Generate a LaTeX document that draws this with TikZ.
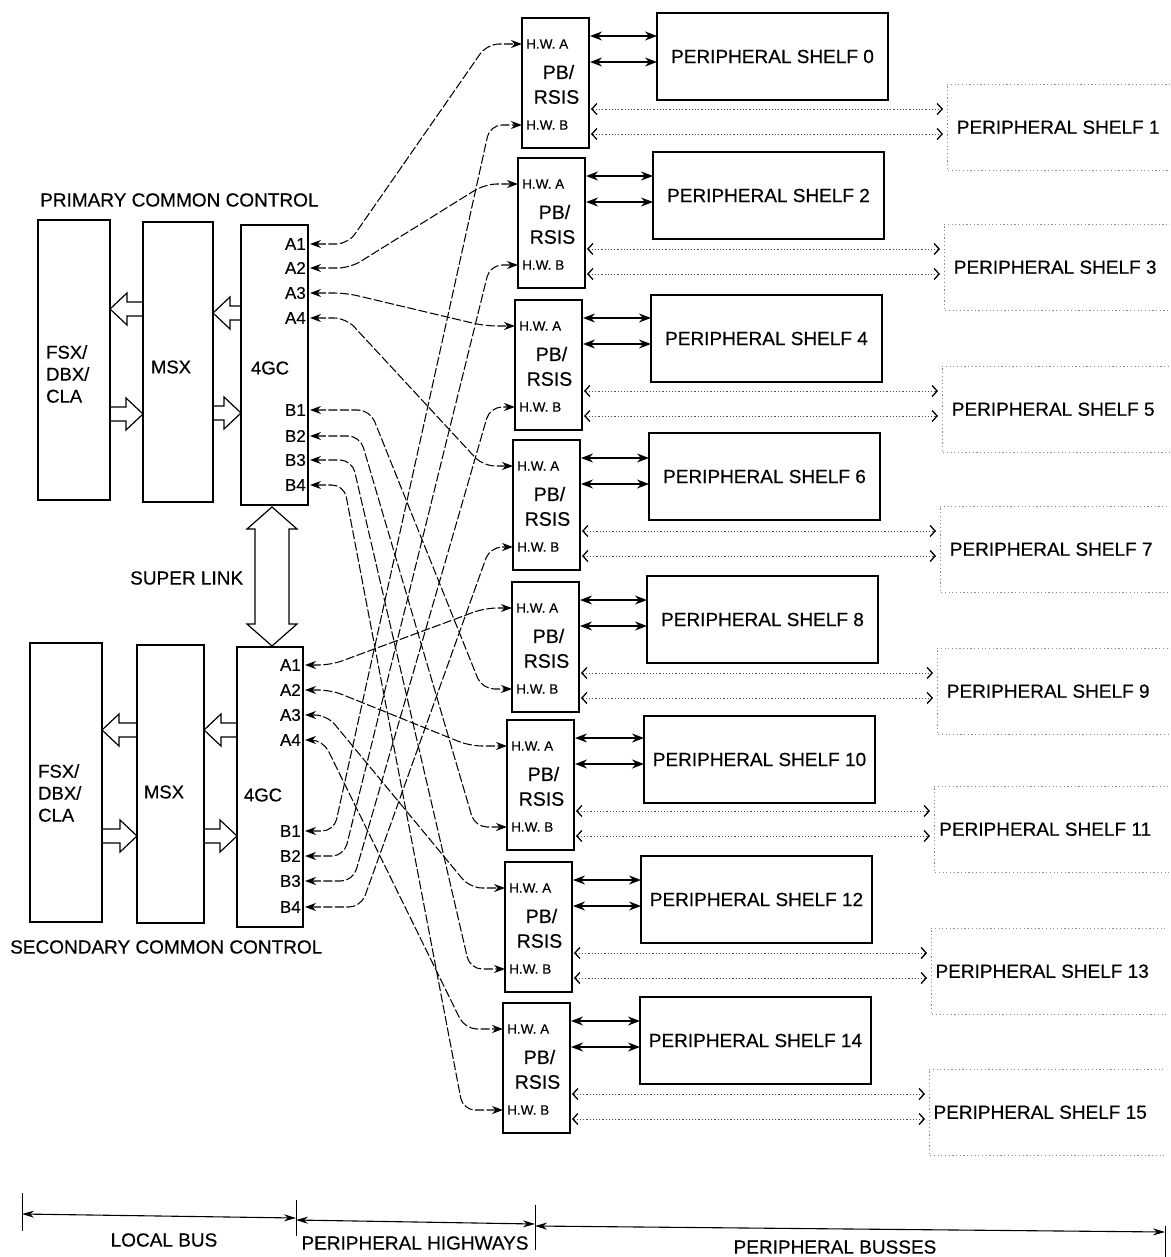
\documentclass[tikz,border=0pt]{standalone}
\usepackage{fontspec}
\setmainfont{Liberation Sans}[FakeBold=0.4]
\usetikzlibrary{arrows.meta,calc}
\newcommand\blkl[3]{\draw[blk] (#1,#3-7) -- (#2+17,#3-7) -- (#2+17,#3-16) -- (#2,#3) -- (#2+17,#3+16) -- (#2+17,#3+7) -- (#1,#3+7);}
\newcommand\blkr[3]{\draw[blk] (#1,#3-7) -- (#2-17,#3-7) -- (#2-17,#3-16) -- (#2,#3) -- (#2-17,#3+16) -- (#2-17,#3+7) -- (#1,#3+7);}
\begin{document}
\begin{tikzpicture}[x=1pt,y=-1pt,
  box/.style={draw, line width=1.3pt, inner sep=0pt, outer sep=0pt, anchor=north west},
  big/.style={font=\fontsize{19}{21}\selectfont},
  mid/.style={font=\fontsize{18.5}{22}\selectfont},
  port/.style={font=\fontsize{17}{18}\selectfont, inner sep=0pt, anchor=east},
  hw/.style={font=\fontsize{13.5}{14}\selectfont, inner sep=0pt, anchor=west},
  pbl/.style={font=\fontsize{19.5}{21}\selectfont, inner sep=0pt},
  blk/.style={draw, fill=white, line width=1.2pt, line join=miter},
  hwy/.style={line width=1.05pt, dash pattern=on 9pt off 2.5pt, rounded corners=12pt,
    {Stealth[length=11pt,width=8pt]}-{Stealth[length=11pt,width=8pt]}},
  dbl/.style={line width=1.3pt, {Stealth[length=12pt,width=9pt]}-{Stealth[length=12pt,width=9pt]}},
  dotarr/.style={line width=0.8pt, black!70, dash pattern=on 1.2pt off 2pt, shorten >=4pt,
    {Straight Barb[length=5pt,width=11pt,line width=1.3pt,color=black]}-{Straight Barb[length=5pt,width=11pt,line width=1.3pt,color=black]}},
  dotbox/.style={line width=0.8pt, black!45, dash pattern=on 1.2pt off 2.5pt},
  oddsh/.style={inner sep=0pt, anchor=north west, font=\fontsize{19}{21}\selectfont},
  tickl/.style={line width=1pt},
  scl/.style={line width=1.1pt, {Stealth[length=12pt,width=7pt]}-{Stealth[length=12pt,width=7pt]}}
]
\useasboundingbox (0,0) rectangle (1170,1257);
\clip (0,0) rectangle (1170,1257);

% ---- block arrows (drawn first, boxes on top)
\blkl{143}{110}{309}
\blkl{241}{213}{313}
\blkr{110}{143}{414}
\blkr{213}{241}{413}
\blkl{137}{102}{730}
\blkl{237}{204}{730}
\blkr{102}{137}{836}
\blkr{204}{237}{836}

% ---- common control boxes
\node[box, minimum width=72pt, minimum height=280pt] (fsx1) at (38,220) {};
\node[box, minimum width=70pt, minimum height=280pt] (msx1) at (143,222) {};
\node[box, minimum width=67pt, minimum height=280pt] (gc1) at (241,225) {};
\node[box, minimum width=72pt, minimum height=279pt] (fsx2) at (30,643) {};
\node[box, minimum width=67pt, minimum height=278pt] (msx2) at (137,645) {};
\node[box, minimum width=66pt, minimum height=280pt] (gc2) at (237,647) {};

\node[mid, align=left, anchor=west, inner sep=0pt] (fsxl1) at (46,374) {FSX/\\DBX/\\CLA};
\node[mid, inner sep=0pt] (msxl1) at (171,367) {MSX};
\node[mid, inner sep=0pt] (gcl1) at (270,368) {4GC};
\node[mid, align=left, anchor=west, inner sep=0pt] (fsxl2) at (38,793) {FSX/\\DBX/\\CLA};
\node[mid, inner sep=0pt] (msxl2) at (164,792) {MSX};
\node[mid, inner sep=0pt] (gcl2) at (263,795) {4GC};
\node[big, anchor=west, inner sep=0pt] (pcc) at (40,200) {PRIMARY COMMON CONTROL};
\node[big, anchor=west, inner sep=0pt] (scc) at (10,947) {SECONDARY COMMON CONTROL};
\node[big, anchor=west, inner sep=0pt] (slk) at (130,578) {SUPER LINK};

% ---- super link
\draw[blk] (272,507) -- (297,529) -- (289,529) -- (289,624) -- (297,624) -- (272,646)
  -- (247,624) -- (255,624) -- (255,529) -- (247,529) -- cycle;

% ---- ports
\foreach \l/\y in {A1/244, A2/268, A3/293, A4/318, B1/410, B2/436, B3/460, B4/485} {
  \coordinate (p\l) at (310,\y);
  \node[port] (pl\l) at (306,\y) {\l};
}
\foreach \l/\y in {A1/665, A2/690, A3/715, A4/740, B1/831, B2/856, B3/881, B4/907} {
  \coordinate (s\l) at (305,\y);
  \node[port] (sl\l) at (301,\y) {\l};
}

% ---- PB/RSIS boxes, shelves
\foreach \k/\xl/\yt/\xs/\ys/\ne/\no/\xo in {
  0/522/18/657/13/0/1/947,
  1/518/158/653/152/2/3/944,
  2/515/300/651/295/4/5/942,
  3/513/440/649/433/6/7/940,
  4/512/582/647/576/8/9/937,
  5/507/720/644/716/10/11/934,
  6/505/862/641/856/12/13/931,
  7/503/1003/640/997/14/15/929} {
  \node[box, minimum width=67pt, minimum height=130pt] (pb\k) at (\xl,\yt) {};
  \coordinate (hwa\k) at ($(pb\k.north west)+(0,26)$);
  \coordinate (hwb\k) at ($(pb\k.north west)+(0,107)$);
  \node[hw] (hwal\k) at ($(hwa\k)+(4,0)$) {H.W. A};
  \node[hw] (hwbl\k) at ($(hwb\k)+(4,0)$) {H.W. B};
  \node[pbl] (pbt\k) at ($(pb\k.north)+(3,54)$) {PB/};
  \node[pbl] (rst\k) at ($(pb\k.north)+(1,79)$) {RSIS};
  % even shelf
  \node[box, minimum width=231pt, minimum height=87pt, big] (sh\k) at (\xs,\ys) {PERIPHERAL SHELF \ne};
  \coordinate (da\k) at ($(pb\k.north east)+(1,18)$);
  \coordinate (db\k) at ($(pb\k.north east)+(1,44)$);
  \draw[dbl] (da\k) -- (da\k -| sh\k.west);
  \draw[dbl] (db\k) -- (db\k -| sh\k.west);
  % odd shelf
  \node[oddsh, minimum width=222pt, minimum height=86pt] (os\k) at (\xo,\yt+66) {PERIPHERAL SHELF \no};
  \draw[dotbox] ($(os\k.north east)+(12,0)$) -- (os\k.north west) -- (os\k.south west) -- ($(os\k.south east)+(12,0)$);
  \coordinate (oa\k) at ($(pb\k.north east)+(2,91)$);
  \coordinate (ob\k) at ($(pb\k.north east)+(2,116)$);
  \draw[dotarr] (oa\k) -- (oa\k -| os\k.west);
  \draw[dotarr] (ob\k) -- (ob\k -| os\k.west);
}

% ---- peripheral highways
\foreach \p/\h/\a/\b in {pA1/hwa0/38/35, pA2/hwa1/40/33, pA3/hwa2/36/30, pA4/hwa3/36/30,
    pB1/hwb4/60/30, pB2/hwb5/50/32, pB3/hwb6/42/35, pB4/hwb7/34/40,
    sA1/hwa4/26/27, sA2/hwa5/26/37, sA3/hwa6/22/35, sA4/hwa7/18/38,
    sB1/hwb0/29/32, sB2/hwb1/39/28, sB3/hwb2/48/25, sB4/hwb3/56/23} {
  \draw[hwy] (\p) -- ++(\a,0) -- ($(\h)+(-\b,0)$) -- (\h);
}

% ---- scale at bottom
\coordinate (l0) at (22,1214);
\coordinate (l1) at (296,1218);
\coordinate (h0) at (296,1220);
\coordinate (h1) at (535,1224);
\coordinate (b0) at (535,1226);
\coordinate (b1) at (1165,1232);
\draw[tickl] (22,1193) -- (22,1231);
\draw[tickl] (296,1200) -- (296,1236);
\draw[tickl] (535,1205) -- (535,1250);
\draw[tickl] (1165,1226) -- (1165,1257);
\draw[scl] (l0) -- (l1);
\draw[scl] (h0) -- (h1);
\draw[scl] (b0) -- (b1);
\node[big, inner sep=0pt] (lbus) at (164,1240) {LOCAL BUS};
\node[big, inner sep=0pt] (phwy) at (415,1243) {PERIPHERAL HIGHWAYS};
\node[big, inner sep=0pt] (pbus) at (835,1247) {PERIPHERAL BUSSES};
\end{tikzpicture}
\end{document}
